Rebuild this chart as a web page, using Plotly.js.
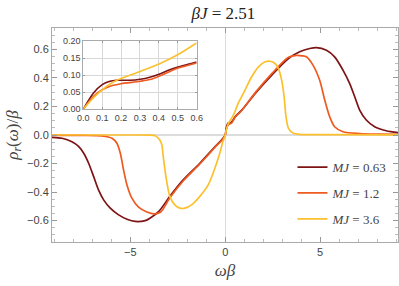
<!DOCTYPE html>
<html>
<head>
<meta charset="utf-8">
<script src="https://cdn.plot.ly/plotly-3.0.1.min.js"></script>
<style>html,body{margin:0;padding:0;background:#fff;}#chart{width:399px;height:286px;}</style>
</head>
<body>
<div id="chart"></div>
<script>
// ---- data ----
const seriesNames = ["<i>MJ</i> = 0.63", "<i>MJ</i> = 1.2", "<i>MJ</i> = 3.6"];
const seriesColors = ["#7d1315", "#ee5a1f", "#fcc02d"];

const omega063 = [-9.13, -8.6, -8.08, -7.73, -7.46, -7.2, -6.94, -6.68, -6.41, -6.06, -5.62, -5.18, -4.75, -4.22, -3.97, -3.5, -2.92, -2.22, -1.34, -0.46, -0.2, -0.05, 0, 0.05, 0.1, 0.14, 0.18, 0.25, 0.3, 0.35, 0.4, 0.46, 0.5, 0.6, 0.87, 1.57, 2.45, 3.33, 3.92, 4.45, 4.8, 5.33, 5.76, 6.2, 6.55, 6.82, 7.08, 7.43, 7.87, 8.48, 9.13];
const rho063   = [-0.016, -0.023, -0.047, -0.08, -0.128, -0.198, -0.29, -0.385, -0.455, -0.513, -0.56, -0.59, -0.606, -0.6, -0.583, -0.535, -0.43, -0.315, -0.198, -0.07, -0.035, -0.01, 0, 0.047, 0.072, 0.082, 0.085, 0.085, 0.088, 0.094, 0.103, 0.116, 0.124, 0.139, 0.175, 0.29, 0.42, 0.536, 0.583, 0.606, 0.613, 0.594, 0.548, 0.455, 0.362, 0.268, 0.175, 0.105, 0.058, 0.03, 0.016];

const omega12 = [-9.13, -7.5, -6.5, -5.97, -5.71, -5.53, -5.36, -5.18, -4.92, -4.57, -4.13, -3.75, -3.4, -2.92, -2.22, -1.34, -0.46, -0.2, -0.05, 0, 0.05, 0.1, 0.16, 0.2, 0.3, 0.35, 0.4, 0.46, 0.5, 0.6, 0.87, 1.57, 2.45, 3.33, 3.75, 4.05, 4.27, 4.62, 4.97, 5.24, 5.5, 5.76, 6.2, 7.08, 8.0, 9.13];
const rho12   = [-0.002, -0.003, -0.007, -0.023, -0.058, -0.128, -0.245, -0.35, -0.443, -0.506, -0.54, -0.553, -0.54, -0.44, -0.322, -0.203, -0.075, -0.04, -0.012, 0, 0.037, 0.057, 0.07, 0.075, 0.082, 0.087, 0.097, 0.111, 0.121, 0.136, 0.172, 0.295, 0.43, 0.545, 0.558, 0.555, 0.548, 0.49, 0.385, 0.245, 0.128, 0.058, 0.023, 0.01, 0.006, 0.005];

const omega36 = [-9.13, -5, -4, -3.7, -3.52, -3.45, -3.34, -3.27, -3.1, -2.92, -2.66, -2.39, -2.13, -1.78, -1.34, -0.9, -0.55, -0.29, -0.15, 0, 0.05, 0.1, 0.15, 0.2, 0.3, 0.4, 0.5, 0.6, 0.69, 1.04, 1.39, 1.75, 2.1, 2.36, 2.62, 2.8, 2.97, 3.1, 3.2, 3.33, 3.59, 3.9, 5, 9.13];
const rho36   = [0, 0, -0.001, -0.005, -0.023, -0.035, -0.07, -0.15, -0.315, -0.43, -0.49, -0.513, -0.513, -0.49, -0.43, -0.35, -0.233, -0.128, -0.058, 0, 0.033, 0.057, 0.077, 0.09, 0.111, 0.133, 0.161, 0.195, 0.225, 0.315, 0.408, 0.478, 0.513, 0.517, 0.501, 0.466, 0.385, 0.268, 0.128, 0.047, 0.012, 0.005, 0.002, 0.001];

// inset (zoom on small omega*beta)
const insetX063 = [0, 0.053, 0.1, 0.141, 0.176, 0.246, 0.301, 0.352, 0.401, 0.458, 0.502, 0.546, 0.6];
const insetY063 = [0, 0.047, 0.072, 0.082, 0.085, 0.085, 0.088, 0.094, 0.103, 0.116, 0.124, 0.131, 0.139];
const insetX12  = [0, 0.053, 0.1, 0.158, 0.2, 0.301, 0.352, 0.401, 0.458, 0.502, 0.6];
const insetY12  = [0, 0.037, 0.057, 0.07, 0.075, 0.082, 0.087, 0.097, 0.111, 0.121, 0.136];
const insetX36  = [0, 0.053, 0.1, 0.15, 0.2, 0.301, 0.401, 0.502, 0.6];
const insetY36  = [0, 0.033, 0.057, 0.077, 0.09, 0.111, 0.133, 0.161, 0.195];

const mainX = [omega063, omega12, omega36];
const mainY = [rho063, rho12, rho36];
const inX = [insetX063, insetX12, insetX36];
const inY = [insetY063, insetY12, insetY36];

const traces = [];
for (let i = 0; i < 3; i++) {
  traces.push({
    x: mainX[i], y: mainY[i], type: 'scatter', mode: 'lines',
    line: {color: seriesColors[i], width: 1.7, shape: 'spline', smoothing: 0.8},
    name: seriesNames[i], legendgroup: 'g' + i, xaxis: 'x', yaxis: 'y',
    hoverinfo: 'skip'
  });
}
for (let i = 0; i < 3; i++) {
  traces.push({
    x: inX[i], y: inY[i], type: 'scatter', mode: 'lines',
    line: {color: seriesColors[i], width: 1.6, shape: 'spline', smoothing: 0.8},
    showlegend: false, xaxis: 'x2', yaxis: 'y2', hoverinfo: 'skip'
  });
}

const tickFont = {family: "'Liberation Sans', Arial, sans-serif", size: 11, color: '#444'};
const serif = "'Liberation Serif', 'Times New Roman', serif";

const layout = {
  width: 399, height: 286,
  margin: {l: 52, r: 1, t: 28, b: 44},
  paper_bgcolor: '#fff', plot_bgcolor: '#fff',
  showlegend: true,
  title: {text: '<i>βJ</i> = 2.51', font: {family: serif, size: 17, color: '#222'}, x: 0.56, xanchor: 'center', y: 0.975, yanchor: 'top'},
  xaxis: {
    domain: [0, 1], range: [-9.13, 9.1], tickvals: [-5, 0, 5], ticktext: ['−5', '0', '5'],
    ticks: 'inside', ticklen: 5, tickcolor: '#999', showline: true, linecolor: '#aaa', linewidth: 1, mirror: 'ticks',
    minor: {dtick: 1, ticklen: 3, tickcolor: '#bbb', ticks: 'inside'},
    showgrid: false, zeroline: true, zerolinecolor: '#dcdcdc', zerolinewidth: 1.5,
    tickfont: tickFont,
    title: {text: '<i>ωβ</i>', font: {family: serif, size: 17, color: '#444'}, standoff: 6}
  },
  yaxis: {
    domain: [0, 1], range: [-0.75, 0.75], dtick: 0.2, tick0: 0, tickformat: '.1f',
    ticks: 'inside', ticklen: 5, tickcolor: '#999', showline: true, linecolor: '#aaa', linewidth: 1, mirror: 'ticks',
    minor: {dtick: 0.05, ticklen: 3, tickcolor: '#bbb', ticks: 'inside'},
    showgrid: false, zeroline: true, zerolinecolor: '#dcdcdc', zerolinewidth: 1.5,
    tickfont: tickFont,
    title: {text: '<i>ρ<sub>r</sub></i>(<i>ω</i>)/<i>β</i>', font: {family: serif, size: 17, color: '#444'}, standoff: 4}
  },
  xaxis2: {
    domain: [0.0905, 0.418], anchor: 'y2', range: [0, 0.6], dtick: 0.1, tick0: 0, tickformat: '.1f',
    ticks: 'inside', ticklen: 2, tickcolor: '#999', showline: true, linecolor: '#aaa', mirror: 'ticks',
    showgrid: true, gridcolor: '#d8d8d8', gridwidth: 1, zeroline: false,
    tickfont: {family: "'Liberation Sans', Arial, sans-serif", size: 9, color: '#444'}
  },
  yaxis2: {
    domain: [0.621, 0.938], anchor: 'x2', range: [0, 0.2], dtick: 0.05, tick0: 0, tickformat: '.2f',
    ticks: 'inside', ticklen: 2, tickcolor: '#999', showline: true, linecolor: '#aaa', mirror: 'ticks',
    showgrid: true, gridcolor: '#d8d8d8', gridwidth: 1, zeroline: false,
    tickfont: {family: "'Liberation Sans', Arial, sans-serif", size: 9, color: '#444'}
  },
  legend: {
    x: 0.695, xanchor: 'left', y: 0.42, yanchor: 'top',
    bgcolor: 'rgba(0,0,0,0)', borderwidth: 0, itemwidth: 30,
    tracegroupgap: 6,
    font: {family: serif, size: 13, color: '#444'}
  }
};

Plotly.newPlot('chart', traces, layout, {staticPlot: true, displayModeBar: false});
</script>
</body>
</html>
